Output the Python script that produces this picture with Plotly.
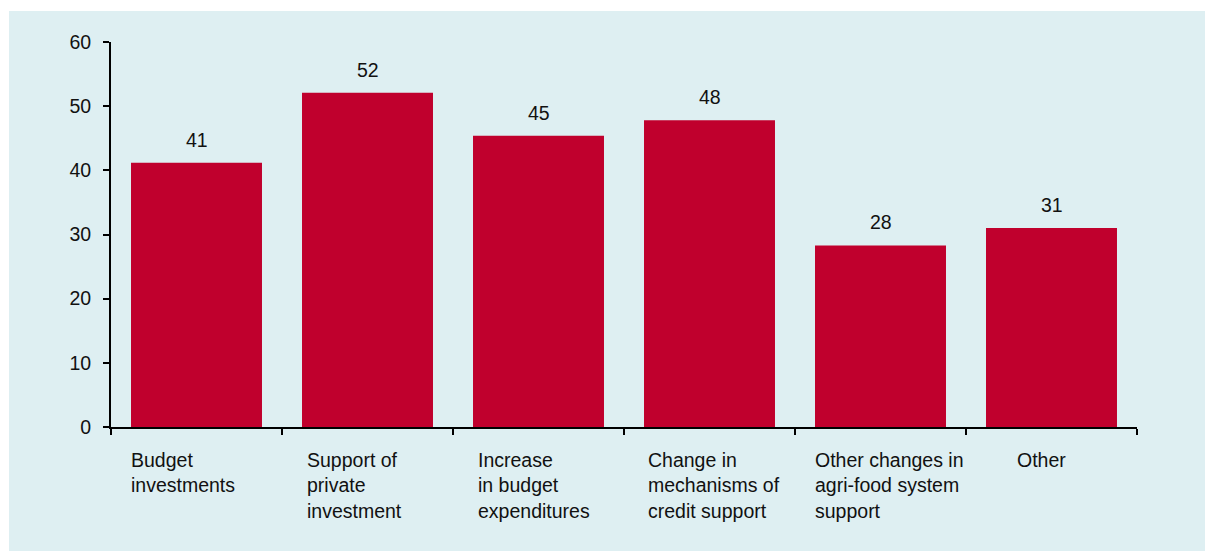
import plotly.graph_objects as go

# Survey shares by support measure (per cent)
categories = [
    "Budget investments",
    "Support of private investment",
    "Increase in budget expenditures",
    "Change in mechanisms of credit support",
    "Other changes in agri-food system support",
    "Other",
]
category_labels = [
    "Budget<br>investments",
    "Support of<br>private<br>investment",
    "Increase<br>in budget<br>expenditures",
    "Change in<br>mechanisms of<br>credit support",
    "Other changes in<br>agri-food system<br>support",
    "Other",
]
values = [41.2, 52.1, 45.4, 47.8, 28.3, 31.0]
y_ticks = [0, 10, 20, 30, 40, 50, 60]

BAR = "#C0002D"
PANEL = "#DEEFF2"
INK = "#111111"
FONT = "Arial, Liberation Sans, sans-serif"
FS = 19.5

# horizontal offsets (px) of the category captions from each category centre
label_shift = [-68, -63, -63, -64, -68, -37]

fig = go.Figure(
    go.Bar(
        x=categories,
        y=values,
        marker=dict(color=BAR, line=dict(width=0)),
        hoverinfo="skip",
    )
)

annotations = []
for cat, v in zip(categories, values):
    annotations.append(dict(
        x=cat, y=v, xref="x", yref="y",
        text=f"{v:.0f}", showarrow=False,
        yanchor="middle", yshift=23,
        font=dict(family=FONT, size=FS, color=INK),
    ))
for cat, lab, dx in zip(categories, category_labels, label_shift):
    annotations.append(dict(
        x=cat, y=0, xref="x", yref="paper",
        text=lab, showarrow=False, align="left",
        xanchor="left", yanchor="top", xshift=dx, yshift=-20,
        font=dict(family=FONT, size=FS, color=INK),
    ))

fig.update_layout(
    width=1205, height=551,
    margin=dict(l=111, r=68, t=42, b=124),
    paper_bgcolor="white",
    plot_bgcolor="rgba(0,0,0,0)",
    bargap=0.234,
    showlegend=False,
    font=dict(family=FONT, size=FS, color=INK),
    annotations=annotations,
    shapes=[dict(
        type="rect", xref="paper", yref="paper", layer="below",
        x0=-0.0994, x1=1.08, y0=-0.34, y1=1.0805,
        fillcolor=PANEL, line=dict(width=0),
    )],
    xaxis=dict(
        type="category",
        range=[-0.5, 5.5],
        showticklabels=False,
        showgrid=False, zeroline=False,
        showline=True, linecolor="black", linewidth=2,
        ticks="outside", tickson="boundaries", ticklen=6, tickwidth=2, tickcolor="black",
    ),
    yaxis=dict(
        range=[0, 60],
        tickvals=y_ticks,
        showgrid=False, zeroline=False,
        showline=True, linecolor="black", linewidth=2,
        ticks="outside", ticklen=6, tickwidth=2, tickcolor="black",
        ticklabelstandoff=8,
        tickfont=dict(family=FONT, size=FS, color=INK),
    ),
)

fig.write_html("out.html")
